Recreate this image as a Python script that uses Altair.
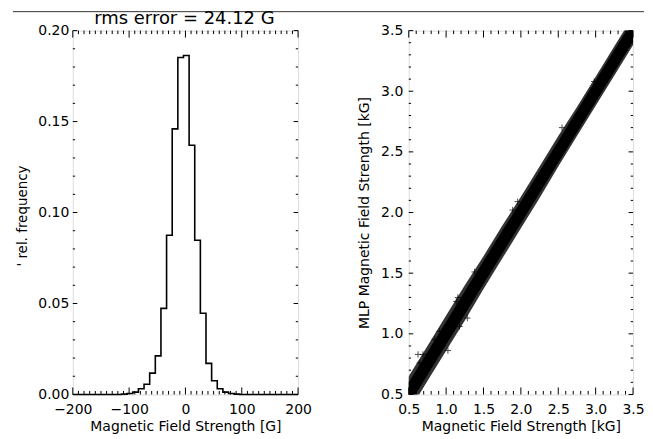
import altair as alt
import pandas as pd

FONT = "DejaVu Sans"

# ---------------- left panel: histogram of residuals ----------------
bin_left = [-113.5, -103.5, -93.5, -83.5, -73.5, -63.5, -53.5, -43.5, -33.5, -23.5,
            -13.5, -3.5, 6.5, 16.5, 26.5, 36.5, 46.5, 56.5, 66.5, 76.5, 86.5]
rel_freq = [0.0002, 0.0005, 0.0013, 0.0031, 0.0056, 0.0117, 0.0212, 0.0473, 0.0875, 0.146,
            0.1852, 0.1863, 0.137, 0.0848, 0.0446, 0.0171, 0.0075, 0.0031, 0.0013, 0.0005, 0.0002]
bin_width = 10

hist_x_ticks = [-200, -100, 0, 100, 200]
hist_y_ticks = [0.0, 0.05, 0.10, 0.15, 0.20]
hist_x_minor = [v for v in range(-200, 201, 10) if v % 100 != 0]
hist_y_minor = [round(i * 0.01, 2) for i in range(0, 21) if i % 5 != 0]
title_text = "rms error = 24.12 G"

# ---------------- right panel: MLP vs. true field strength ----------------
band_x = [0.45, 0.75, 1.00, 1.25, 1.50, 1.75, 2.00, 2.25, 2.50, 2.75, 3.00, 3.25, 3.55]
outer_lo = [0.31, 0.61, 0.86, 1.11, 1.37, 1.62, 1.87, 2.12, 2.38, 2.63, 2.88, 3.13, 3.43]
outer_hi = [0.60, 0.90, 1.15, 1.40, 1.64, 1.89, 2.13, 2.38, 2.63, 2.87, 3.12, 3.37, 3.67]
inner_lo = [0.36, 0.66, 0.91, 1.16, 1.41, 1.66, 1.91, 2.16, 2.41, 2.66, 2.91, 3.16, 3.46]
inner_hi = [0.55, 0.85, 1.10, 1.35, 1.60, 1.85, 2.09, 2.34, 2.59, 2.84, 3.09, 3.34, 3.64]

outlier_x = [1.157, 1.024, 0.847, 0.647, 1.283, 0.913, 0.690, 1.136, 0.624, 1.380, 1.957, 1.890, 1.18, 2.55, 2.98]
outlier_y = [1.300, 0.862, 0.952, 0.760, 1.130, 1.020, 0.830, 1.267, 0.830, 1.510, 2.090, 2.020, 1.06, 2.70, 3.08]

sc_ticks = [0.5, 1.0, 1.5, 2.0, 2.5, 3.0, 3.5]
sc_minor = [round(0.5 + i * 0.1, 1) for i in range(31) if i % 5 != 0]

W1, W2, H = 226, 225, 365


def axis_props(**kw):
    base = dict(labelFont=FONT, labelFontSize=14, labelColor="black", labelFlush=False,
                labelOverlap=False,
                titleFont=FONT, titleFontSize=14, titleColor="black",
                titleFontWeight="normal", ticks=False, domain=False, grid=False)
    base.update(kw)
    return alt.Axis(**base)


def tick_layers(xscale, yscale, xaxis, yaxis, xmaj, xmin, ymaj, ymin, W, H,
                xlen=(7, 3.5), ylen=(4.5, 2.3)):
    layers = []
    for vals, L in ((xmaj, xlen[0]), (xmin, xlen[1])):
        base = alt.Chart(pd.DataFrame({"v": vals})).mark_rule(color="black", strokeWidth=1)
        enc_x = alt.X("v:Q", scale=xscale, axis=xaxis)
        layers.append(base.encode(x=enc_x, y=alt.value(H), y2=alt.value(H - L)))
        layers.append(base.encode(x=enc_x, y=alt.value(0), y2=alt.value(L)))
    for vals, L in ((ymaj, ylen[0]), (ymin, ylen[1])):
        base = alt.Chart(pd.DataFrame({"v": vals})).mark_rule(color="black", strokeWidth=1)
        enc_y = alt.Y("v:Q", scale=yscale, axis=yaxis)
        layers.append(base.encode(y=enc_y, x=alt.value(0), x2=alt.value(L)))
        layers.append(base.encode(y=enc_y, x=alt.value(W), x2=alt.value(W - L)))
    return layers


# histogram steps built from the bin arrays
step_x = [-200] + bin_left + [bin_left[-1] + bin_width, 200]
step_y = [0.0] + rel_freq + [0.0, 0.0]
hist_df = pd.DataFrame({"x": step_x, "y": step_y})

hx = alt.Scale(domain=[-200, 200], nice=False, zero=False)
hy = alt.Scale(domain=[0, 0.2], nice=False, zero=False)
hx_axis = axis_props(values=hist_x_ticks, labelPadding=8,
                     title="Magnetic Field Strength [G]", titleY=36, titleBaseline="alphabetic")
hy_axis = axis_props(values=hist_y_ticks, format=".2f", labelPadding=4,
                     title="' rel. frequency", titleFontSize=13.5,
                     titleX=-50, titleY=H / 2 + 3, titleAngle=270,
                     titleAlign="center", titleBaseline="middle")

hist = alt.Chart(hist_df).mark_line(interpolate="step-after", color="black", strokeWidth=1.6).encode(
    x=alt.X("x:Q", scale=hx, axis=hx_axis),
    y=alt.Y("y:Q", scale=hy, axis=hy_axis),
)

one = pd.DataFrame({"a": [0]})
top_line = alt.Chart(one).mark_rule(color="#333333", strokeWidth=1).encode(
    x=alt.value(-60), x2=alt.value(573), y=alt.value(-19)
)
title_mark = alt.Chart(one).mark_text(
    font=FONT, fontSize=18, color="black", align="center", baseline="alphabetic"
).encode(x=alt.value(W1 / 2 - 1), y=alt.value(-7), text=alt.value(title_text))

left = alt.layer(
    hist, *tick_layers(hx, hy, hx_axis, hy_axis, hist_x_ticks, hist_x_minor,
                       hist_y_ticks, hist_y_minor, W1, H),
    top_line, title_mark
).properties(width=W1, height=H)

# scatter panel
sx = alt.Scale(domain=[0.5, 3.5], nice=False, zero=False)
sy = alt.Scale(domain=[0.5, 3.5], nice=False, zero=False)
sx_axis = axis_props(values=sc_ticks, format=".1f", labelPadding=8,
                     title="Magnetic Field Strength [kG]", titleY=36, titleBaseline="alphabetic")
sy_axis = axis_props(values=sc_ticks, format=".1f", labelPadding=6,
                     title="MLP Magnetic Field Strength [kG]",
                     titleX=-44, titleY=H / 2, titleAngle=270,
                     titleAlign="center", titleBaseline="middle")

band_df = pd.DataFrame({"x": band_x, "olo": outer_lo, "ohi": outer_hi, "ilo": inner_lo, "ihi": inner_hi})
out_df = pd.DataFrame({"x": outlier_x, "y": outlier_y})

outer = alt.Chart(band_df).mark_area(color="#333333", clip=True).encode(
    x=alt.X("x:Q", scale=sx, axis=sx_axis),
    y=alt.Y("olo:Q", scale=sy, axis=sy_axis),
    y2="ohi:Q",
)
inner = alt.Chart(band_df).mark_area(color="black", clip=True).encode(
    x=alt.X("x:Q", scale=sx, axis=sx_axis), y=alt.Y("ilo:Q", scale=sy, axis=sy_axis), y2="ihi:Q"
)
crosses = alt.Chart(out_df).mark_point(
    shape="M-1,0L1,0M0,-1L0,1", size=40, filled=False, color="black", strokeWidth=1, clip=True
).encode(x=alt.X("x:Q", scale=sx, axis=sx_axis), y=alt.Y("y:Q", scale=sy, axis=sy_axis))

right = alt.layer(
    outer, inner, crosses,
    *tick_layers(sx, sy, sx_axis, sy_axis, sc_ticks, sc_minor, sc_ticks, sc_minor, W2, H)
).properties(width=W2, height=H)

chart = alt.hconcat(left, right, spacing=111, bounds="flush").properties(
    padding={"left": 4, "top": 0, "right": 0, "bottom": 0}
).configure_view(stroke="black", strokeWidth=1).configure(font=FONT)

chart.save("out.html", embed_options={"renderer": "svg", "actions": False})
